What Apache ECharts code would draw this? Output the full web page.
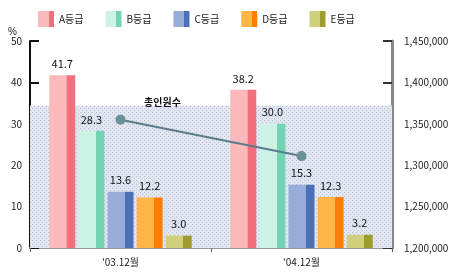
<!DOCTYPE html>
<html>
<head>
<meta charset="utf-8">
<script src="https://cdn.jsdelivr.net/npm/echarts@6/dist/echarts.min.js"></script>
<style>
  html, body { margin: 0; padding: 0; background: #fff; }
  #chart { width: 455px; height: 275px; }
</style>
</head>
<body>
<div id="chart"></div>
<script>
const categories = ["'03.12월", "'04.12월"];
const gradeNames = ['A등급', 'B등급', 'C등급', 'D등급', 'E등급'];
const gradeA = [41.7, 38.2];
const gradeB = [28.3, 30.0];
const gradeC = [13.6, 15.3];
const gradeD = [12.2, 12.3];
const gradeE = [3.0, 3.2];
const totalName = '총인원수';
const totalCount = [1355000, 1311000];
const leftTicks = [0, 10, 20, 30, 40, 50];
const rightTicks = [1200000, 1250000, 1300000, 1350000, 1400000, 1450000];
const bandTop = 34.4;

const gradeValues = [gradeA, gradeB, gradeC, gradeD, gradeE];
const palette = [
  ['#fbb9bb', '#f2707e'],
  ['#cdf2e6', '#72d4b2'],
  ['#97acd9', '#4a70b6'],
  ['#ffb548', '#ff7d00'],
  ['#d0cf7c', '#9d9c2c'],
];

function faceColor(pair) {
  return new echarts.graphic.LinearGradient(0, 0, 1, 0, [
    { offset: 0, color: pair[0] },
    { offset: 0.66, color: pair[0] },
    { offset: 0.67, color: pair[1] },
    { offset: 1, color: pair[1] },
  ]);
}

// dotted band behind the bars
const tile = document.createElement('canvas');
tile.width = 4;
tile.height = 4;
const tctx = tile.getContext('2d');
tctx.fillStyle = '#e2e6f1';
tctx.fillRect(0, 0, 4, 4);
tctx.fillStyle = '#b9c1d8';
tctx.fillRect(0, 0, 1, 1);
tctx.fillRect(2, 2, 1, 1);

const chart = echarts.init(document.getElementById('chart'));

const barSeries = gradeNames.map((name, i) => ({
  name,
  type: 'bar',
  data: gradeValues[i],
  barWidth: 26,
  barGap: '12%',
  itemStyle: { color: faceColor(palette[i]) },
  label: {
    show: true,
    position: 'top',
    distance: 6,
    color: '#111',
    fontSize: 11,
    formatter: (p) => p.value.toFixed(1),
  },
  markArea: i === 0 ? {
    silent: true,
    itemStyle: { color: { image: tile, repeat: 'repeat' } },
    data: [[{ yAxis: 0 }, { yAxis: bandTop }]],
  } : undefined,
  z: 3,
}));

chart.setOption({
  animation: false,
  textStyle: { fontFamily: 'Noto Sans CJK KR, DejaVu Sans, sans-serif' },
  legend: {
    data: gradeNames,
    top: 6,
    left: 33,
    itemWidth: 16,
    itemHeight: 16,
    itemGap: 22,
    icon: 'rect',
    textStyle: { fontSize: 10, color: '#222' },
  },
  grid: { left: 30, right: 63, top: 41, bottom: 27 },
  graphic: [
    { type: 'text', left: 8, top: 27, style: { text: '%', fontSize: 10, fill: '#222' } },
  ],
  xAxis: {
    type: 'category',
    data: categories,
    axisLine: { lineStyle: { color: '#999', width: 2 } },
    axisTick: { show: true, alignWithLabel: false, length: 4, lineStyle: { color: '#666' } },
    axisLabel: { color: '#222', fontSize: 10, margin: 9 },
  },
  yAxis: [
    {
      type: 'value',
      min: leftTicks[0],
      max: leftTicks[leftTicks.length - 1],
      interval: 10,
      position: 'left',
      splitLine: { show: false },
      axisLine: { show: true, lineStyle: { color: '#111', width: 2 } },
      axisTick: { show: true, inside: true, length: 9, lineStyle: { color: '#111', width: 2 } },
      axisLabel: { color: '#222', fontSize: 10, margin: 8 },
    },
    {
      type: 'value',
      min: rightTicks[0],
      max: rightTicks[rightTicks.length - 1],
      interval: 50000,
      position: 'right',
      splitLine: { show: false },
      axisLine: { show: true, lineStyle: { color: '#888', width: 3 } },
      axisTick: { show: true, inside: true, length: 9, lineStyle: { color: '#333', width: 2 } },
      axisLabel: {
        color: '#222',
        fontSize: 10,
        margin: 12,
        formatter: (v) => v.toLocaleString('en-US'),
      },
    },
  ],
  series: [
    ...barSeries,
    {
      name: totalName,
      type: 'line',
      yAxisIndex: 1,
      data: totalCount,
      symbol: 'circle',
      symbolSize: 10,
      lineStyle: { color: '#5c7c8c', width: 2 },
      itemStyle: { color: '#6a9098' },
      label: {
        show: true,
        position: 'top',
        offset: [42, -2],
        fontSize: 10,
        fontWeight: 'bold',
        color: '#111',
        formatter: (p) => (p.dataIndex === 0 ? p.seriesName : ''),
      },
      z: 5,
    },
  ],
});
</script>
</body>
</html>
